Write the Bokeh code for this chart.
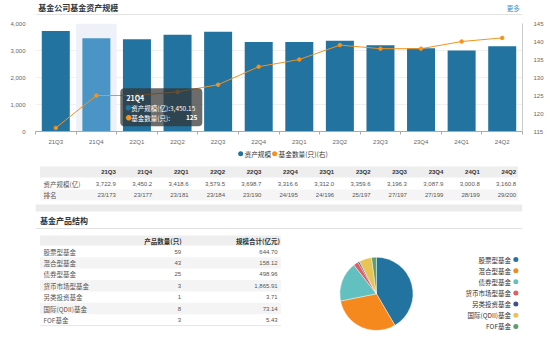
import numpy as np
from bokeh.plotting import figure
from bokeh.models import (Range1d, LinearAxis, FixedTicker, NumeralTickFormatter,
                          BoxAnnotation, Label, Grid)
from bokeh.layouts import column
from bokeh.embed import file_html
from bokeh.resources import INLINE
from bokeh.core.properties import value

# ---------------- data ----------------
quarters = ["21Q3", "21Q4", "22Q1", "22Q2", "22Q3", "22Q4",
            "23Q1", "23Q2", "23Q3", "23Q4", "24Q1", "24Q2"]
asset_scale = [3722.9, 3450.2, 3418.6, 3579.5, 3698.7, 3316.6,
               3312.0, 3359.6, 3196.3, 3087.9, 3000.8, 3160.8]
fund_count = [116, 125, 125, 126, 128, 133, 135, 139, 138, 138, 140, 141]
rank_pos = [23, 23, 23, 23, 23, 24, 24, 25, 27, 27, 28, 29]
rank_total = [173, 177, 181, 184, 190, 195, 196, 197, 197, 199, 199, 200]
left_ticks = [0, 1000, 2000, 3000, 4000]
right_ticks = [115, 120, 125, 130, 135, 140, 145]
tip_quarter = "21Q4"
tip_scale_text = "3,450.15"
tip_count_text = "125"

product_types = ["股票型基金", "混合型基金", "债券型基金", "货币市场型基金",
                 "另类投资基金", "国际(QDII)基金", "FOF基金"]
product_counts = [59, 43, 25, 3, 1, 8, 3]
product_scale = [644.70, 158.12, 498.96, 1865.91, 3.71, 73.14, 5.43]

# ---------------- styles ----------------
CJK = "Noto Sans CJK SC"
NUM = "Liberation Sans"
BAR = "#22739f"
BAR_HI = "#4a95c5"
BAND = "#eef1f7"
ORANGE = "#f5921e"
PIE_COLORS = ["#22739f", "#f5891d", "#63c0c0", "#e25c60", "#434f93", "#e7c454", "#5c9e6c"]
W = 550


def canvas(h, y0):
    f = figure(width=W, height=h, x_range=Range1d(0, W), y_range=Range1d(y0 + h, y0),
               output_backend="svg", toolbar_location=None, x_axis_type=None,
               y_axis_type=None, min_border=0, min_border_left=0, min_border_right=0,
               min_border_top=0, min_border_bottom=0, title=None)
    f.outline_line_color = None
    f.background_fill_color = "white"
    f.border_fill_color = "white"
    return f


def txt(f, xs, ys, texts, size="6.5px", font=CJK, color="#555555", align="left",
        bold=False):
    f.text(x=list(xs), y=list(ys), text=list(texts), text_font=value(font),
           text_font_size=value(size), text_color=color, text_align=align,
           text_baseline="middle", text_font_style="bold" if bold else "normal")


# ---------------- header ----------------
HEAD_H = 15
head = canvas(HEAD_H, 0)
txt(head, [3], [7], ["基金公司基金资产规模"], size="8px", color="#333333", bold=True)
txt(head, [547], [7], ["更多"], size="6.5px", color="#3a8ec4", align="right")
head.segment(x0=[0], y0=[14], x1=[W], y1=[14], line_color="#e2e2e2", line_width=1)

# ---------------- chart ----------------
CH_H = 132
p = figure(width=W, height=CH_H, x_range=Range1d(0, len(quarters)),
           y_range=Range1d(left_ticks[0], left_ticks[-1]),
           output_backend="svg", toolbar_location=None, x_axis_type=None, y_axis_type=None,
           min_border_left=35, min_border_right=28, min_border_top=8, min_border_bottom=15,
           title=None)
p.outline_line_color = None
p.extra_y_ranges = {"cnt": Range1d(right_ticks[0], right_ticks[-1])}

left = LinearAxis(ticker=FixedTicker(ticks=left_ticks), formatter=NumeralTickFormatter(format="0,0"))
left.axis_line_color = None
left.major_tick_line_color = None
left.minor_tick_line_color = None
left.major_label_text_font = NUM
left.major_label_text_font_size = "6px"
left.major_label_text_color = "#666666"
left.major_label_standoff = 4
p.add_layout(left, "left")

right = LinearAxis(y_range_name="cnt", ticker=FixedTicker(ticks=right_ticks))
right.axis_line_color = "#cccccc"
right.major_tick_line_color = None
right.minor_tick_line_color = None
right.major_label_text_font = NUM
right.major_label_text_font_size = "6px"
right.major_label_text_color = "#666666"
right.major_label_standoff = 5
p.add_layout(right, "right")

xs = np.arange(len(quarters)) + 0.5
bounds = list(np.arange(len(quarters) + 1).astype(float))
bottom = LinearAxis(ticker=FixedTicker(ticks=list(xs), minor_ticks=bounds),
                    major_label_overrides={float(x): q for x, q in zip(xs, quarters)})
bottom.axis_line_color = "#aaaaaa"
bottom.major_tick_line_color = None
bottom.minor_tick_line_color = "#aaaaaa"
bottom.minor_tick_out = 3
bottom.minor_tick_in = 0
bottom.major_label_text_font = NUM
bottom.major_label_text_font_size = "6px"
bottom.major_label_text_color = "#666666"
bottom.major_label_standoff = 1
p.add_layout(bottom, "below")

p.add_layout(Grid(dimension=1, ticker=left.ticker, grid_line_color="#f0f0f0"))

hover_idx = quarters.index(tip_quarter)
hx = xs[hover_idx]
p.vbar(x=[hx], width=1.0, top=[left_ticks[-1]], bottom=[left_ticks[0]],
       fill_color=BAND, line_color=None)
bar_colors = [BAR_HI if i == hover_idx else BAR for i in range(len(quarters))]
p.vbar(x=xs, width=0.69, top=asset_scale, bottom=0, fill_color=bar_colors, line_color=None)
p.line(x=xs, y=fund_count, y_range_name="cnt", line_color=ORANGE, line_width=1)
p.scatter(x=xs, y=fund_count, y_range_name="cnt", size=3.5, fill_color=ORANGE,
          line_color=ORANGE)

# tooltip (static)
p.add_layout(BoxAnnotation(left=hx + 0.59, right=hx + 2.61, bottom=190, top=1600,
                           fill_color="#333333", fill_alpha=0.72, line_color=None,
                           border_radius=4))
p.add_layout(Label(x=hx + 0.74, y=1250, text=tip_quarter, text_color="white",
                   text_font=CJK, text_font_size="7px", text_font_style="bold",
                   text_baseline="middle"))
for yy, col, lab, val in [(880, BAR, "资产规模(亿):" + tip_scale_text, None),
                          (510, ORANGE, "基金数量(只):", tip_count_text)]:
    p.add_layout(Label(x=hx + 0.72, y=yy, text="●", text_color=col, text_font=CJK,
                       text_font_size="6px", text_baseline="middle"))
    p.add_layout(Label(x=hx + 0.86, y=yy, text=lab, text_color="white", text_font=CJK,
                       text_font_size="6.5px", text_baseline="middle"))
    if val:
        p.add_layout(Label(x=hx + 2.49, y=yy, text=val, text_color="white", text_font=CJK,
                           text_font_size="6.5px", text_font_style="bold",
                           text_align="right", text_baseline="middle"))

# ---------------- rest of page ----------------
REST_Y0 = HEAD_H + CH_H
rest = canvas(339 - REST_Y0, REST_Y0)

# legend of chart
rest.scatter(x=[231.7, 270], y=[153.3, 153.3], size=5, fill_color=[BAR, ORANGE], line_color=None)
txt(rest, [236, 274.5], [153.3, 153.3], ["资产规模", "基金数量(只)(右)"], size="6.7px", color="#333333")

# table 1
rest.quad(left=[5], right=[545], top=[166], bottom=[177], fill_color="#eeeeee", line_color=None)
rest.quad(left=[5], right=[545], top=[189], bottom=[200], fill_color="#f5f5f5", line_color=None)
col_right = [90.7 + 41.1 * i for i in range(len(quarters))]
txt(rest, col_right, [171.5] * len(quarters), quarters, size="6px", font=NUM,
    color="#333333", align="right", bold=True)
txt(rest, col_right, [183.5] * len(quarters), [f"{v:,.1f}" for v in asset_scale],
    size="6px", font=NUM, align="right")
txt(rest, col_right, [194.5] * len(quarters),
    [f"{a}/{b}" for a, b in zip(rank_pos, rank_total)], size="6px", font=NUM, align="right")
txt(rest, [9, 9], [183.5, 194.5], ["资产规模(亿)", "排名"], size="6.5px")

# separator band and section title
rest.quad(left=[0], right=[W], top=[204], bottom=[211], fill_color="#ebebeb", line_color=None)
txt(rest, [5], [220], ["基金产品结构"], size="8px", color="#333333", bold=True)
rest.segment(x0=[0], y0=[228], x1=[W], y1=[228], line_color="#e2e2e2", line_width=1)

# table 2
rest.quad(left=[5], right=[277], top=[235], bottom=[245], fill_color="#eeeeee", line_color=None)
txt(rest, [165, 276], [240, 240], ["产品数量(只)", "规模合计(亿元)"], size="6.5px",
    color="#333333", align="right", bold=True)
row_y = [251 + 11.4 * i for i in range(len(product_types))]
for i, y in enumerate(row_y):
    if i % 2 == 1:
        rest.quad(left=[5], right=[277], top=[y - 5.7], bottom=[y + 5.7],
                  fill_color="#f4f4f4", line_color=None)
rest.segment(x0=[5], y0=[row_y[-1] + 5.7], x1=[277], y1=[row_y[-1] + 5.7],
             line_color="#e6e6e6", line_width=1)
txt(rest, [9] * len(product_types), row_y, product_types, size="6.5px")
txt(rest, [164.5] * len(product_types), row_y, [str(c) for c in product_counts],
    size="6px", font=NUM, align="right")
txt(rest, [273.5] * len(product_types), row_y, [f"{v:,.2f}" for v in product_scale],
    size="6px", font=NUM, align="right")

# pie
fr = np.array(product_counts, dtype=float) / sum(product_counts)
cum = np.concatenate([[0.0], np.cumsum(fr)])
starts = np.pi / 2 - 2 * np.pi * cum[:-1]
ends = np.pi / 2 - 2 * np.pi * cum[1:]
rest.wedge(x=385, y=293.3, radius=41.3, start_angle=list(starts), end_angle=list(ends),
           direction="clock", fill_color=PIE_COLORS, line_color="white", line_width=0.4)

# pie legend
leg_y = [259 + 11.15 * i for i in range(len(product_types))]
txt(rest, [537] * len(product_types), leg_y, product_types, size="6.5px",
    color="#333333", align="right")
rest.scatter(x=[542.5] * len(product_types), y=leg_y, size=5, fill_color=PIE_COLORS,
             line_color=None)

layout = column(head, p, rest, spacing=0)
open("out.html", "w").write(file_html(layout, INLINE))
